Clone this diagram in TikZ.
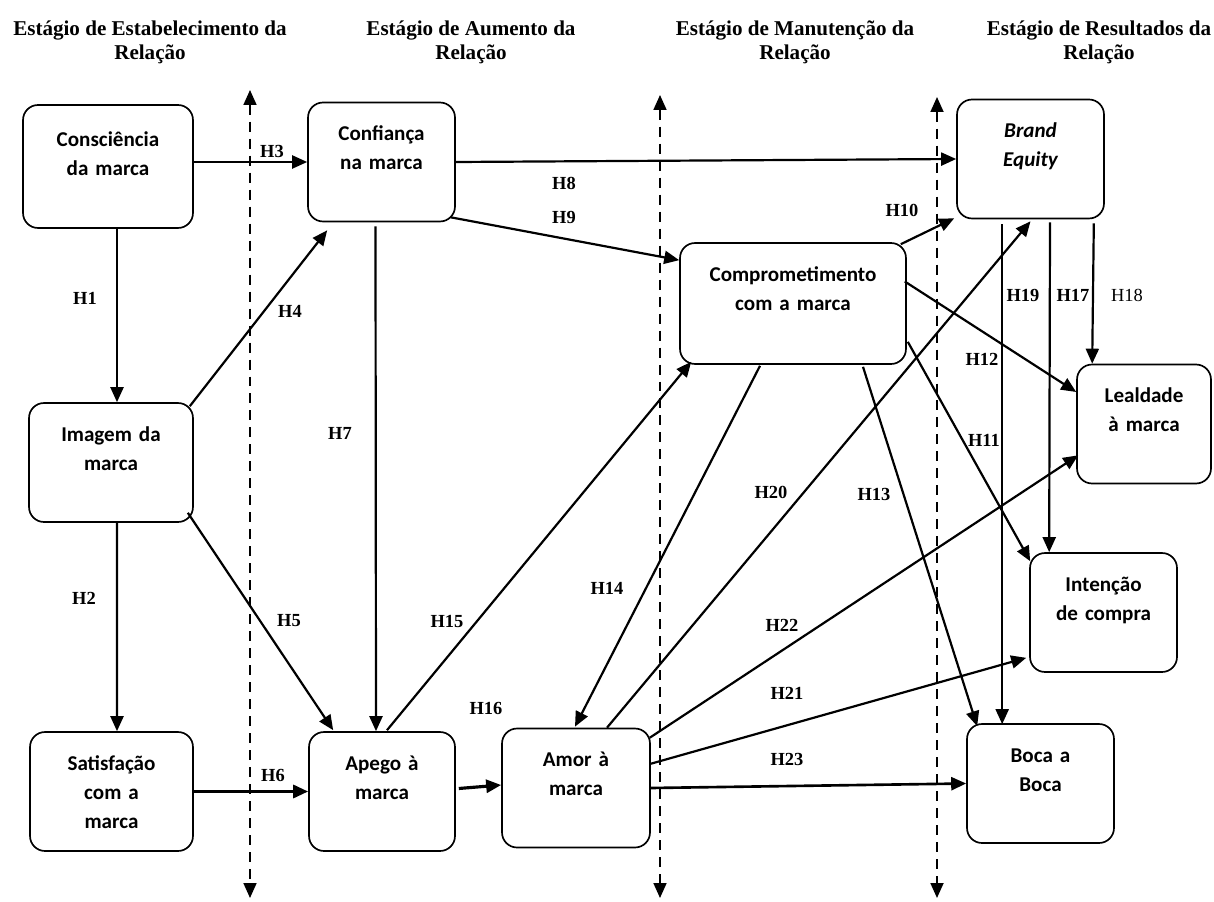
\documentclass[tikz,border=0pt]{standalone}
\usepackage{fontspec}
\setmainfont{Liberation Serif}
\newfontfamily\carlito{Carlito}
\usetikzlibrary{arrows.meta, calc}

\tikzset{
    caixa/.style={draw, rounded corners=0.3cm, line width=0.95pt, inner sep=0pt,
        align=center, text width=#1, text height=0.76cm, text depth=1.62cm,
        font=\carlito\bfseries\fontsize{12}{16.7}\selectfont},
    titulo/.style={align=center, font=\bfseries\fontsize{12}{13.6}\selectfont},
    hip/.style={inner sep=1pt, font=\bfseries\fontsize{10.5}{12}\selectfont},
    fronteira/.style={<->, line width=1pt, dash pattern=on 0.2cm off 0.14cm},
}

\begin{document}
\begin{tikzpicture}[x=0.02cm, y=-0.02cm, >={Triangle[length=0.3cm, width=0.26cm]}]
        \useasboundingbox (0,0) rectangle (1214,902);

        \node[titulo] (est1) at (150,42) {Estágio de Estabelecimento da\\Relação};
        \node[titulo] (est2) at (471,42) {Estágio de Aumento da\\Relação};
        \node[titulo] (est3) at (795,42) {Estágio de Manutenção da\\Relação};
        \node[titulo] (est4) at (1099,42) {Estágio de Resultados da\\Relação};

        % limites entre estagios
        \coordinate (f1a) at (250,90);  \coordinate (f1b) at (250,898);
        \coordinate (f2a) at (660,95);  \coordinate (f2b) at (660,898);
        \coordinate (f3a) at (937,97);  \coordinate (f3b) at (937,898);
        \draw[fronteira] (f1a) -- (f1b);
        \draw[fronteira] (f2a) -- (f2b);
        \draw[fronteira] (f3a) -- (f3b);

        \node[caixa=3.4cm, text height=0.82cm, text depth=1.64cm] (consc) at (108,166.5) {Consciência\\da marca};
        \node[caixa=2.94cm] (conf) at (381.5,162) {Confiança\\na marca};
        \node[caixa=2.94cm] (equity) at (1030.5,159) {\itshape Brand\\Equity};
        \node[caixa=4.52cm, text depth=1.66cm] (compr) at (793,303.5) {Comprometimento\\com a marca};
        \node[caixa=2.68cm] (leal) at (1144,424) {Lealdade\\à marca};
        \node[caixa=3.28cm] (imag) at (111,462.5) {Imagem da\\marca};
        \node[caixa=2.94cm] (inten) at (1103.5,612.5) {Intenção\\de compra};
        \node[caixa=3.26cm] (satisf) at (111.5,791.5) {Satisfação\\com a\\marca};
        \node[caixa=2.92cm] (apego) at (382,791.5) {Apego à\\marca};
        \node[caixa=2.96cm] (amor) at (576,788) {Amor à\\marca};
        \node[caixa=2.94cm] (boca) at (1040.5,783.5) {Boca a\\Boca};

        \path[->, line width=1.25pt]
        ($(consc.south)+(9,0)$) edge ($(imag.north)+(6,0)$)
        ($(imag.south)+(6,0)$) edge ($(satisf.north)+(5.5,0)$)
        (consc.east |- conf.west) edge (conf.west)
        ($(imag.north east)+(-4,4)$) edge ($(conf.south west)+(20,8)$)
        ($(imag.south east)+(-6,-10)$) edge ($(apego.north west)+(25,-1)$)
        (satisf.east) edge[line width=1.8pt] (apego.west)
        ($(conf.south)+(-6,4)$) edge ($(apego.north)+(-6,0)$)
        (conf.east) edge (equity.west)
        ($(conf.south east)+(-5,-5)$) edge ($(compr.north west)+(0,18)$)
        ($(compr.north east)+(-6,2)$) edge ($(equity.south west)+(-2,-1)$)
        ($(compr.south east)+(1,-23)$) edge ($(inten.north west)+(1,9)$)
        ($(compr.east)+(-2,-22)$) edge ($(leal.west)+(0,-32)$)
        ($(compr.south)+(70,2)$) edge ($(boca.north west)+(11,3)$)
        ($(compr.south)+(-33,1)$) edge ($(amor.north)+(-1,-1)$)
        ($(apego.north)+(5,-1)$) edge ($(compr.south west)+(12,-3)$)
        ($(apego.east)+(3,-3)$) edge[line width=1.8pt] ($(amor.west)+(0,-3)$)
        ($(equity.south)+(19.5,3)$) edge ($(inten.north west)+(20,0)$)
        ($(equity.south east)+(-11,4)$) edge ($(leal.north west)+(16,0)$)
        ($(equity.south west)+(46,5)$) edge ($(boca.north west)+(36,1)$)
        ($(amor.north)+(31,0)$) edge ($(equity.south)+(0,2)$)
        ($(amor.east)+(-1,-24)$) edge ($(inten.south west)+(-3,-15)$)
        ($(amor.north east)+(-1,10)$) edge ($(leal.south west)+(2,-29)$)
        (amor.east) edge[line width=1.5pt] (boca.west);

        \node[hip] (h1) at (85,298) {H1};
        \node[hip] (h2) at (84,598) {H2};
        \node[hip] (h3) at (272,151) {H3};
        \node[hip] (h4) at (290,311) {H4};
        \node[hip] (h5) at (289,621) {H5};
        \node[hip] (h6) at (273,775) {H6};
        \node[hip] (h7) at (340,433) {H7};
        \node[hip] (h8) at (564,183) {H8};
        \node[hip] (h9) at (564,217) {H9};
        \node[hip] (h10) at (902,210) {H10};
        \node[hip] (h11) at (984,440) {H11};
        \node[hip] (h12) at (982,359) {H12};
        \node[hip] (h13) at (874,494) {H13};
        \node[hip] (h14) at (607,588) {H14};
        \node[hip] (h15) at (447,621) {H15};
        \node[hip] (h16) at (486,708) {H16};
        \node[hip] (h17) at (1073,295) {H17};
        \node[hip, font=\fontsize{10.5}{12}\selectfont] (h18) at (1127,295) {H18};
        \node[hip] (h19) at (1023,295) {H19};
        \node[hip] (h20) at (771,492) {H20};
        \node[hip] (h21) at (787,693) {H21};
        \node[hip] (h22) at (782,625) {H22};
        \node[hip] (h23) at (787,759) {H23};
\end{tikzpicture}
\end{document}
